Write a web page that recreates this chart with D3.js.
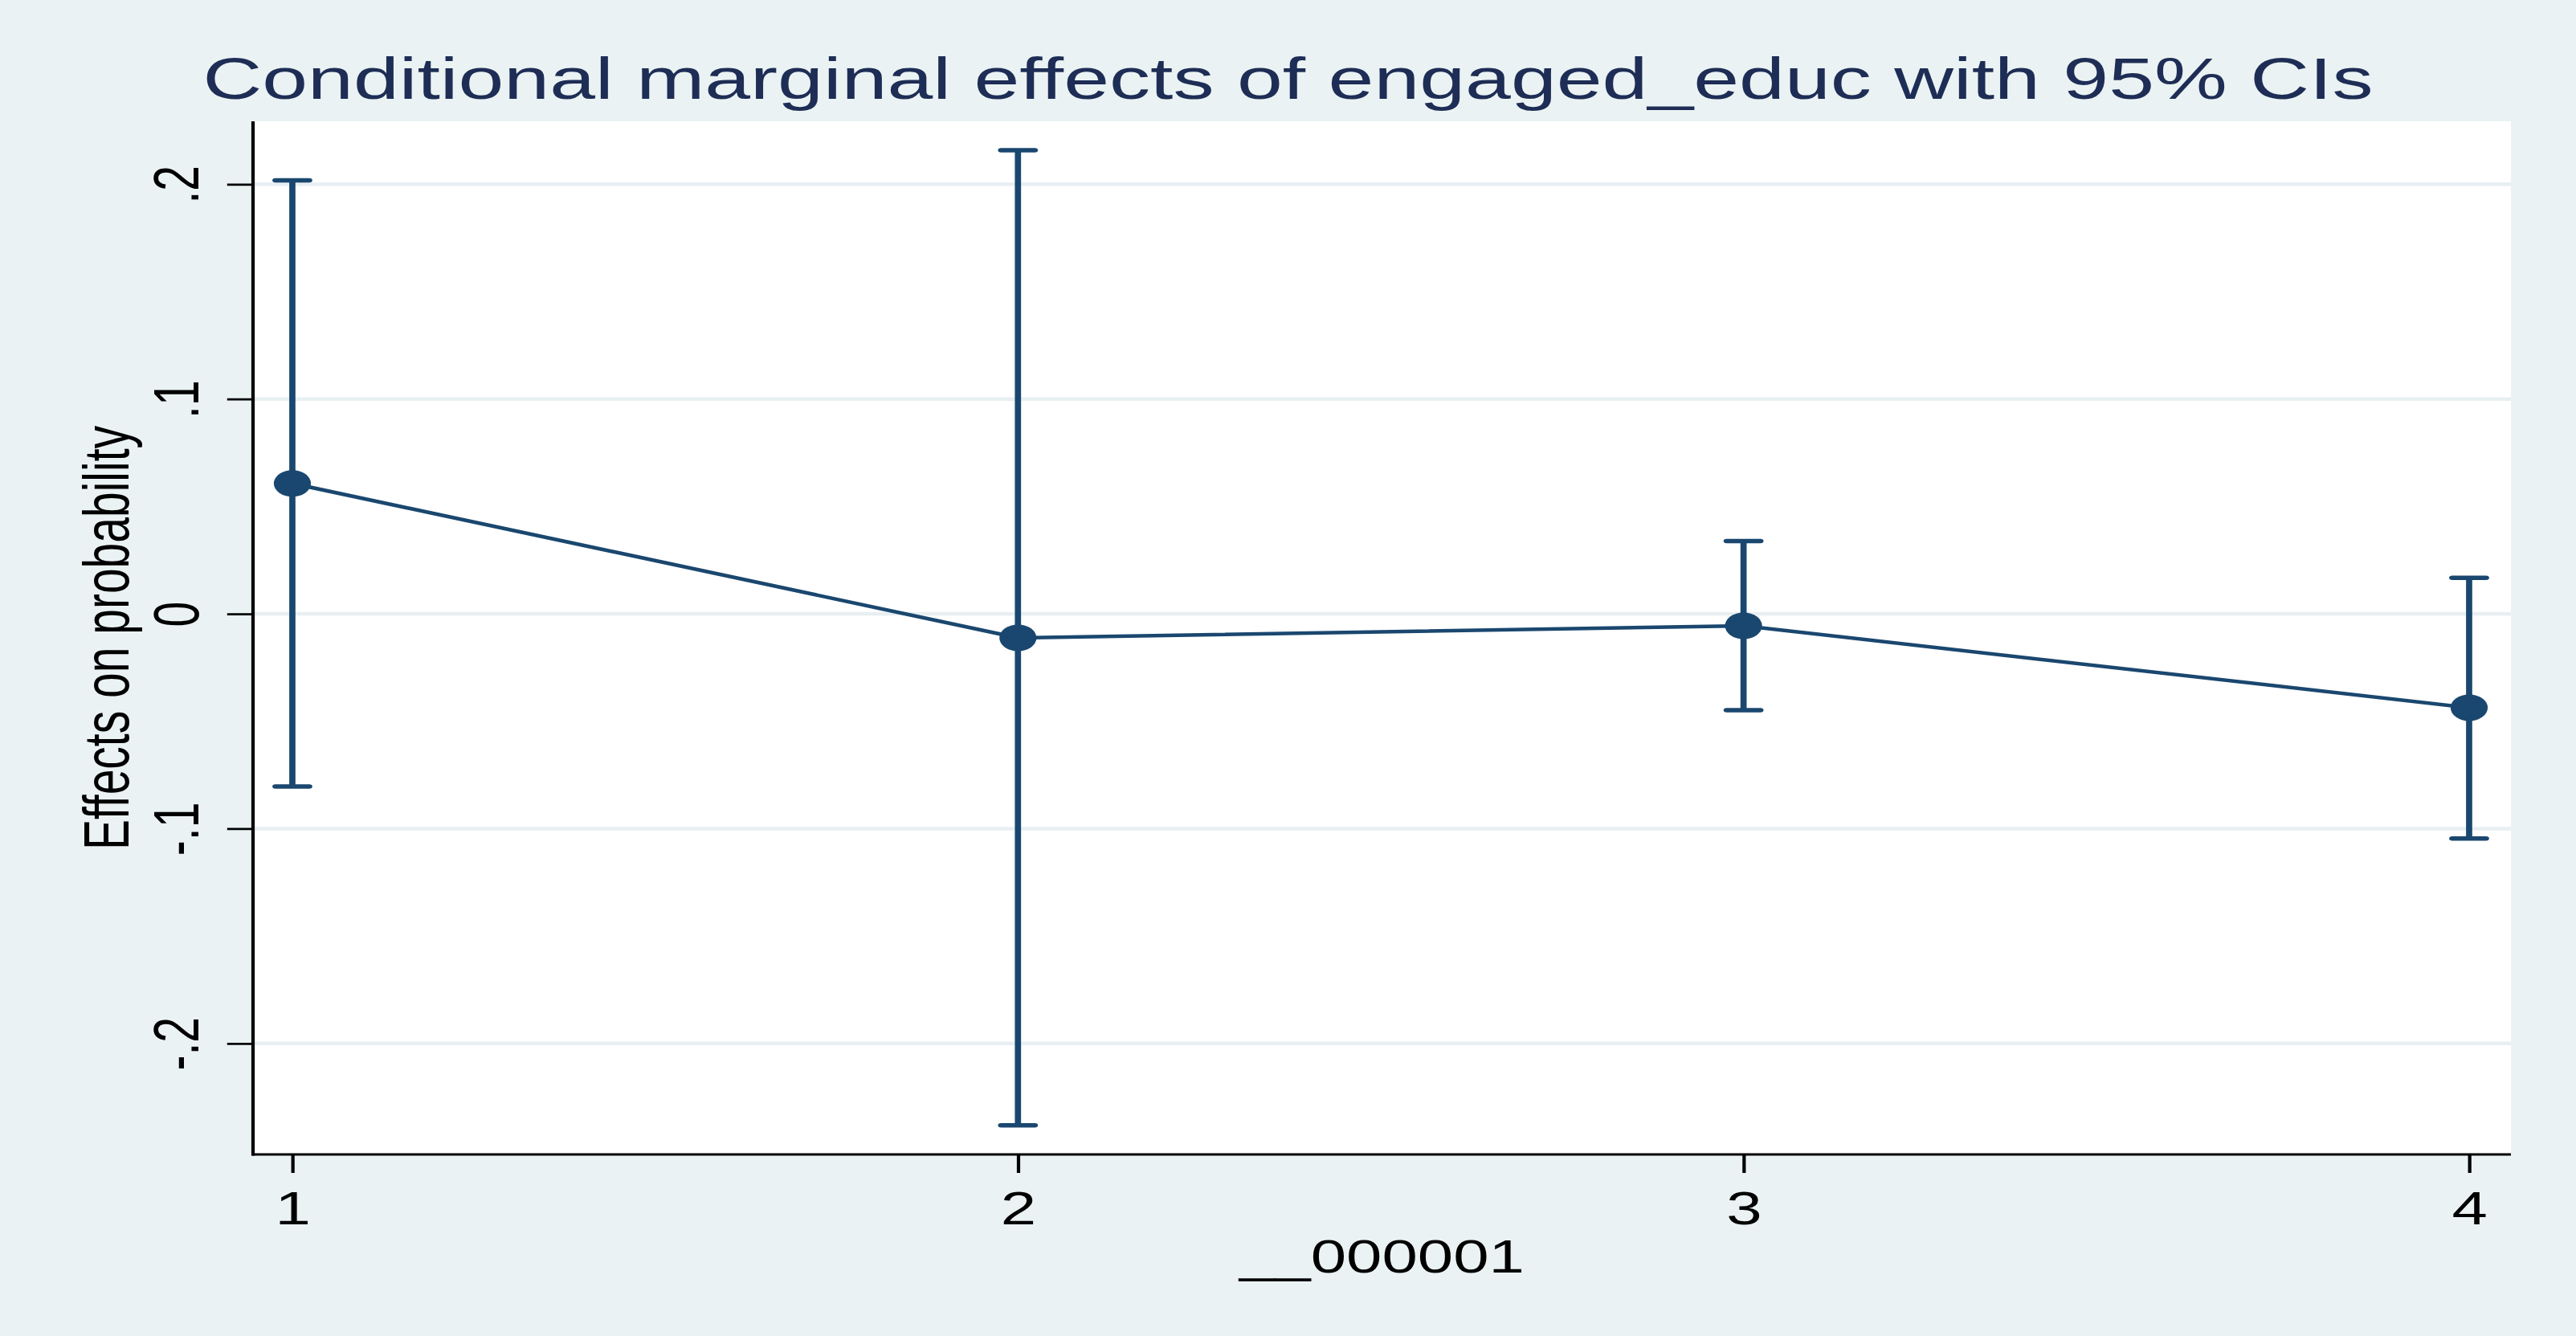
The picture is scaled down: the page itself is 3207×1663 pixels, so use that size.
<!DOCTYPE html>
<html>
<head>
<meta charset="utf-8">
<script src="https://cdn.jsdelivr.net/npm/d3@7"></script>
<style>
  html, body { margin: 0; padding: 0; background: #eaf2f3; }
  svg { display: block; }
  text { font-family: "Liberation Sans", Arial, Helvetica, sans-serif; }
</style>
</head>
<body>
<svg id="chart" width="3207" height="1663"></svg>
<script>
// ---- data ----
const categories = [1, 2, 3, 4];
const effects    = [0.0607, -0.0112, -0.0056, -0.0437];
const ciUpper    = [0.2018, 0.2158, 0.0339, 0.0168];
const ciLower    = [-0.0804, -0.2381, -0.0449, -0.1046];
const yTickValues = [-0.2, -0.1, 0, 0.1, 0.2];
const yTickLabels = ["-.2", "-.1", "0", ".1", ".2"];
const xTickLabels = ["1", "2", "3", "4"];
const titleText  = "Conditional marginal effects of engaged_educ with 95% CIs";
const xTitle     = "__000001";
const yTitle     = "Effects on probability";

// ---- layout ----
const W = 3207, H = 1663;
const SX = 1.4;                // horizontal stretch of the exported picture
const plot = { left: 315, right: 3126, top: 151, bottom: 1437 };
const navy = "#1a476f";
const bg = "#eaf2f3";
const gridColor = "#e8eff2";

const svg = d3.select("#chart");
svg.append("rect").attr("x", 0).attr("y", 0).attr("width", W).attr("height", H).attr("fill", bg);

const g = svg.append("g").attr("transform", `scale(${SX},1)`);

const x = d3.scaleLinear().domain([0.9458, 4.0576]).range([plot.left / SX, plot.right / SX]);
const y = d3.scaleLinear().domain([-0.2517, 0.2293]).range([plot.bottom, plot.top]);

// plot region
g.append("rect")
  .attr("x", plot.left / SX).attr("y", plot.top)
  .attr("width", (plot.right - plot.left) / SX).attr("height", plot.bottom - plot.top)
  .attr("fill", "#ffffff");

// gridlines
g.append("g").selectAll("line").data(yTickValues).join("line")
  .attr("x1", plot.left / SX).attr("x2", plot.right / SX)
  .attr("y1", d => y(d)).attr("y2", d => y(d))
  .attr("stroke", gridColor).attr("stroke-width", 4.5);

// y axis
const yAxis = d3.axisLeft(y).tickValues(yTickValues).tickSize(23).tickSizeOuter(0)
  .tickFormat((d, i) => yTickLabels[i]);
const yAxisG = g.append("g").attr("transform", `translate(${plot.left / SX},0)`).call(yAxis);
yAxisG.select(".domain").remove();
yAxisG.selectAll(".tick line").attr("stroke", "#000").attr("stroke-width", 2.8);
yAxisG.selectAll(".tick text")
  .attr("x", null).attr("dy", null)
  .attr("transform", `translate(${(246.7 - plot.left) / SX},0) rotate(-90)`)
  .attr("text-anchor", "middle")
  .attr("font-size", 57).attr("fill", "#000")
  .style("font-family", "'Liberation Sans', Arial, sans-serif");
g.append("line")
  .attr("x1", plot.left / SX).attr("x2", plot.left / SX)
  .attr("y1", plot.top).attr("y2", plot.bottom + 1.4)
  .attr("stroke", "#000").attr("stroke-width", 3);

// x axis
const xAxis = d3.axisBottom(x).tickValues(categories).tickSize(23).tickSizeOuter(0)
  .tickFormat((d, i) => xTickLabels[i]);
const xAxisG = g.append("g").attr("transform", `translate(0,${plot.bottom})`).call(xAxis);
xAxisG.select(".domain").remove();
xAxisG.selectAll(".tick line").attr("stroke", "#000").attr("stroke-width", 3);
xAxisG.selectAll(".tick text")
  .attr("y", 87).attr("dy", null)
  .attr("font-size", 57).attr("fill", "#000")
  .style("font-family", "'Liberation Sans', Arial, sans-serif");
g.append("line")
  .attr("x1", plot.left / SX - 1).attr("x2", plot.right / SX)
  .attr("y1", plot.bottom).attr("y2", plot.bottom)
  .attr("stroke", "#000").attr("stroke-width", 2.8);

// data rows
const rows = categories.map((c, i) => ({ c, m: effects[i], hi: ciUpper[i], lo: ciLower[i] }));

// connecting line
g.append("path").datum(rows)
  .attr("d", d3.line().x(d => x(d.c)).y(d => y(d.m)))
  .attr("fill", "none").attr("stroke", navy).attr("stroke-width", 4.5);

// error bars
const capHalf = 15;
const eb = g.append("g").attr("stroke", navy).attr("stroke-width", 5.5).attr("stroke-linecap", "round");
eb.selectAll("line.v").data(rows).join("line").attr("class", "v")
  .attr("x1", d => x(d.c)).attr("x2", d => x(d.c))
  .attr("y1", d => y(d.hi)).attr("y2", d => y(d.lo))
  .attr("stroke-linecap", "butt");
eb.selectAll("line.hi").data(rows).join("line").attr("class", "hi")
  .attr("x1", d => x(d.c) - capHalf).attr("x2", d => x(d.c) + capHalf)
  .attr("y1", d => y(d.hi)).attr("y2", d => y(d.hi));
eb.selectAll("line.lo").data(rows).join("line").attr("class", "lo")
  .attr("x1", d => x(d.c) - capHalf).attr("x2", d => x(d.c) + capHalf)
  .attr("y1", d => y(d.lo)).attr("y2", d => y(d.lo));

// markers
g.append("g").selectAll("circle").data(rows).join("circle")
  .attr("cx", d => x(d.c)).attr("cy", d => y(d.m)).attr("r", 16.5)
  .attr("fill", navy);

// titles
g.append("text")
  .attr("x", (W / 2) / SX).attr("y", 123)
  .attr("text-anchor", "middle")
  .attr("font-size", 73).attr("fill", "#1e2d55")
  .text(titleText);

g.append("text")
  .attr("x", ((plot.left + plot.right) / 2) / SX).attr("y", 1584)
  .attr("text-anchor", "middle")
  .attr("font-size", 57).attr("fill", "#000")
  .text(xTitle);

g.append("text")
  .attr("transform", `translate(${160 / SX},${(plot.top + plot.bottom) / 2}) rotate(-90)`)
  .attr("text-anchor", "middle")
  .attr("font-size", 57).attr("fill", "#000")
  .text(yTitle);
</script>
</body>
</html>
